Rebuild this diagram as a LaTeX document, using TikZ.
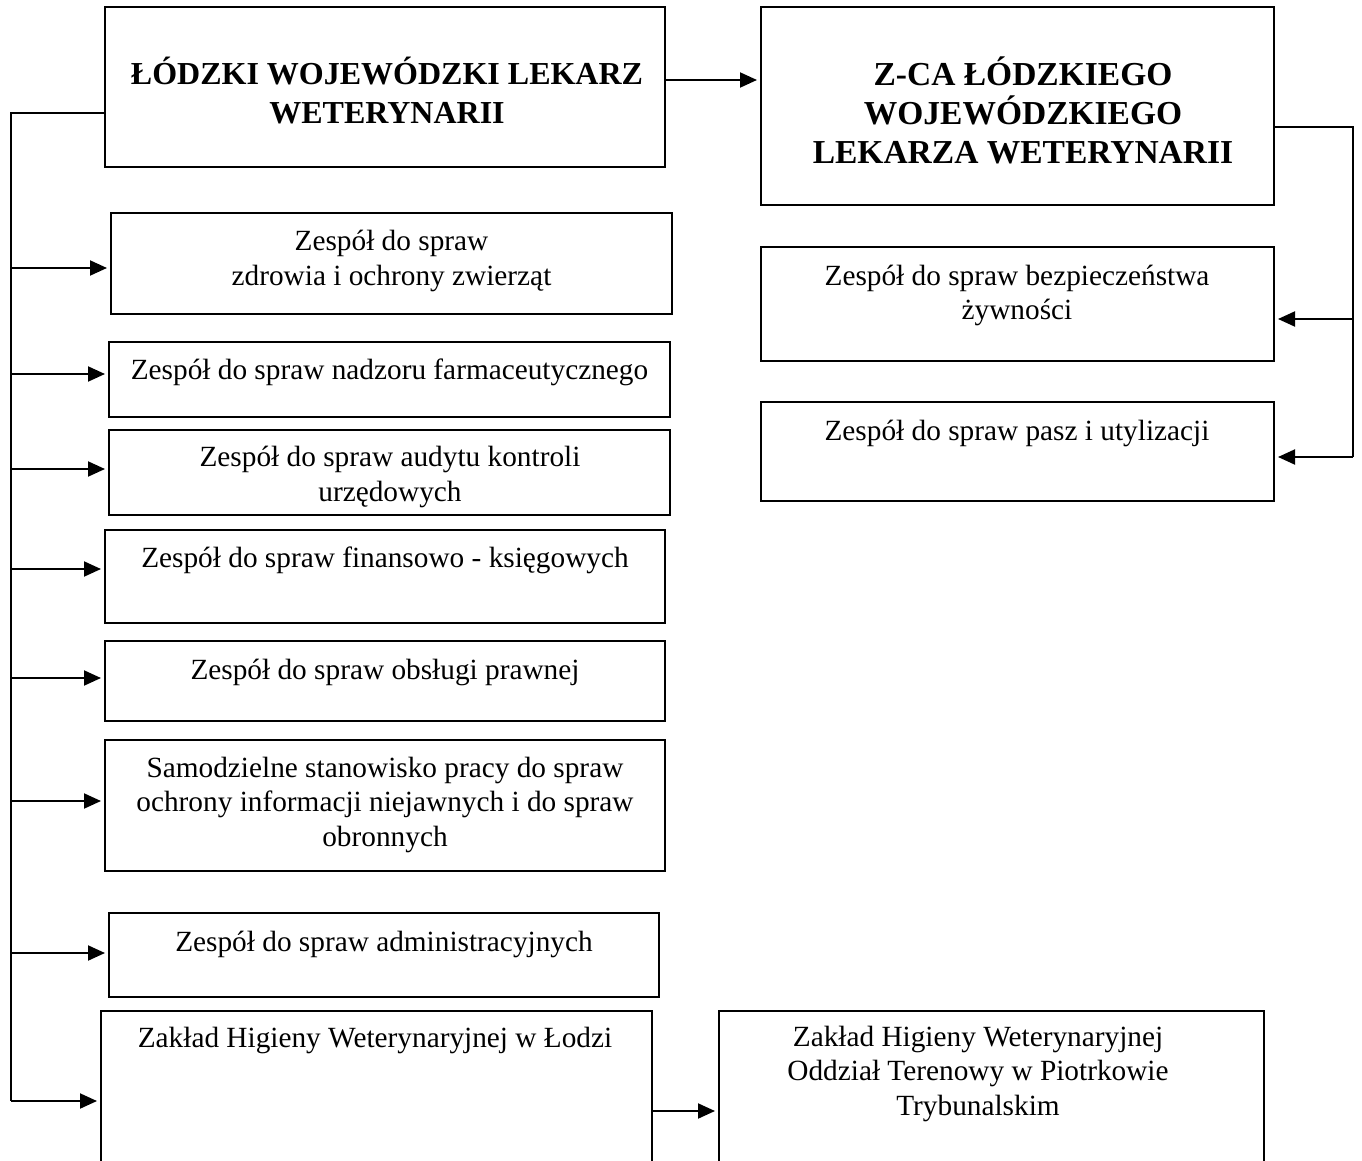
\documentclass[tikz,border=0pt]{standalone}
\usepackage{fontspec}
\setmainfont{Liberation Serif}
\usetikzlibrary{arrows.meta}
\tikzset{
  box/.style={draw, line width=2pt, rectangle, inner sep=0pt},
  txt/.style={align=center, inner sep=0pt, font=\fontsize{29.3}{34.5}\selectfont},
  btxt/.style={align=center, inner sep=0pt, font=\bfseries\fontsize{32}{39}\selectfont},
  bbtxt/.style={align=center, inner sep=0pt, font=\bfseries\fontsize{33.5}{39}\selectfont},
  conn/.style={line width=2pt},
  arr/.style={line width=2pt, -{Triangle[length=17pt,width=15pt]}, shorten >=3pt},
}
\begin{document}
\begin{tikzpicture}[x=1pt,y=-1pt]
\useasboundingbox (0,0) rectangle (1362,1161);
\clip (0,0) rectangle (1362,1161);
% boxes
\node[box, minimum width=560, minimum height=160] (main) at (385,87) {};
\node[box, minimum width=513, minimum height=198] (zca) at (1017.5,106) {};
\node[box, minimum width=561, minimum height=101] (b1) at (391.5,263.5) {};
\node[box, minimum width=561, minimum height=75] (b2) at (389.5,379.5) {};
\node[box, minimum width=561, minimum height=85] (b3) at (389.5,472.5) {};
\node[box, minimum width=560, minimum height=93] (b4) at (385,576.5) {};
\node[box, minimum width=560, minimum height=80] (b5) at (385,681) {};
\node[box, minimum width=560, minimum height=131] (b6) at (385,805.5) {};
\node[box, minimum width=550, minimum height=84] (b7) at (384,955) {};
\node[box, minimum width=551, minimum height=164] (b8) at (376.5,1093) {};
\node[box, minimum width=545, minimum height=164] (b9) at (991.5,1093) {};
\node[box, minimum width=513, minimum height=114] (r1) at (1017.5,304) {};
\node[box, minimum width=513, minimum height=99] (r2) at (1017.5,451.5) {};
% texts
\node[btxt] (tmain) at (387,91) {ŁÓDZKI WOJEWÓDZKI LEKARZ\\WETERYNARII};
\node[bbtxt] (tzca) at (1023,110) {Z-CA ŁÓDZKIEGO\\WOJEWÓDZKIEGO\\LEKARZA WETERYNARII};
\node[txt] (t1) at (391.5,261) {Zespół do spraw\\zdrowia i ochrony zwierząt};
\node[txt] (t2) at (389.5,372.5) {Zespół do spraw nadzoru farmaceutycznego};
\node[txt] (t3) at (390,477) {Zespół do spraw audytu kontroli\\urzędowych};
\node[txt] (t4) at (385,560.5) {Zespół do spraw finansowo - księgowych};
\node[txt] (t5) at (385,672.5) {Zespół do spraw obsługi prawnej};
\node[txt] (t6) at (385,804.5) {Samodzielne stanowisko pracy do spraw\\ochrony informacji niejawnych i do spraw\\obronnych};
\node[txt] (t7) at (384,944.5) {Zespół do spraw administracyjnych};
\node[txt] (t8) at (375,1040.5) {Zakład Higieny Weterynaryjnej w Łodzi};
\node[txt] (t9) at (978,1073.5) {Zakład Higieny Weterynaryjnej\\Oddział Terenowy w Piotrkowie\\Trybunalskim};
\node[txt] (tr1) at (1017,295.5) {Zespół do spraw bezpieczeństwa\\żywności};
\node[txt] (tr2) at (1017,433.5) {Zespół do spraw pasz i utylizacji};
% left trunk
\coordinate (L0) at (11,113);
\coordinate (La) at (11,268);
\coordinate (Lb) at (11,374);
\coordinate (Lc) at (11,469);
\coordinate (Ld) at (11,569);
\coordinate (Le) at (11,678);
\coordinate (Lf) at (11,801);
\coordinate (Lg) at (11,953);
\coordinate (Lh) at (11,1101);
\draw[conn, line join=miter] (main.west |- L0) -- (L0) -- (Lh);
\draw[arr] (La) -- (La -| b1.west);
\draw[arr] (Lb) -- (Lb -| b2.west);
\draw[arr] (Lc) -- (Lc -| b3.west);
\draw[arr] (Ld) -- (Ld -| b4.west);
\draw[arr] (Le) -- (Le -| b5.west);
\draw[arr] (Lf) -- (Lf -| b6.west);
\draw[arr] (Lg) -- (Lg -| b7.west);
\draw[arr] (Lh) -- (Lh -| b8.west);
% top arrow
\coordinate (M0) at (665,80);
\draw[arr] (main.east |- M0) -- (zca.west |- M0);
% right trunk
\coordinate (R0) at (1353,127);
\coordinate (Ra) at (1353,319);
\coordinate (Rb) at (1353,457);
\draw[conn, line join=miter] (zca.east |- R0) -- (R0) -- (Rb);
\draw[arr] (Ra) -- (Ra -| r1.east);
\draw[arr] (Rb) -- (Rb -| r2.east);
% bottom arrow
\coordinate (B0) at (652,1111);
\draw[arr] (b8.east |- B0) -- (b9.west |- B0);
\end{tikzpicture}
\end{document}
